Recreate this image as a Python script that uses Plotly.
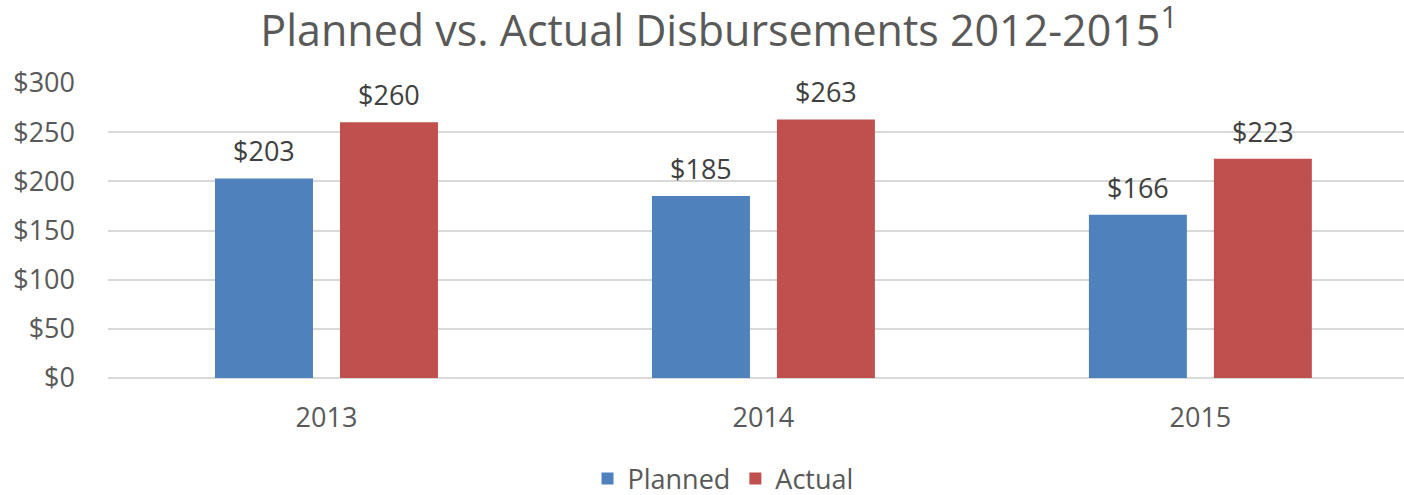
import plotly.graph_objects as go

years = ["2013", "2014", "2015"]
planned = [203, 185, 166]
actual = [260, 263, 223]
series_names = ["Planned", "Actual"]
y_ticks = [0, 50, 100, 150, 200, 250, 300]
y_tick_labels = ["$0", "$50", "$100", "$150", "$200", "$250", "$300"]

BLUE = "#4F81BD"
RED = "#C0504D"
FONT = "Open Sans"

fig = go.Figure()
fig.add_trace(go.Bar(x=years, y=planned, name=series_names[0], marker=dict(color=BLUE, line=dict(width=0))))
fig.add_trace(go.Bar(x=years, y=actual, name=series_names[1], marker=dict(color=RED, line=dict(width=0))))

for vals, shift in ((planned, -62.5), (actual, 62.5)):
    for i, v in enumerate(vals):
        fig.add_annotation(x=i, y=v, xref="x", yref="y", text="$" + str(v), showarrow=False,
                           xshift=shift, yshift=7, yanchor="bottom", xanchor="center",
                           font=dict(family=FONT, size=27, color="#404040"))

fig.update_layout(
    width=1404, height=495,
    margin=dict(l=108, r=0, t=83, b=117, autoexpand=False),
    paper_bgcolor="white", plot_bgcolor="white",
    barmode="group", bargap=0.428, bargroupgap=0.216,
    font=dict(family=FONT, color="#595959"),
    title=dict(text="Planned vs. Actual Disbursements 2012-2015<sup>1</sup>",
               x=719/1404, xanchor="center", xref="container",
               y=1-31/495, yanchor="middle", yref="container",
               font=dict(family=FONT, size=43, color="#595959")),
    legend=dict(orientation="h", x=723/1404, xanchor="center", xref="container",
                y=-101/295, yanchor="middle", yref="paper",
                font=dict(family=FONT, size=27, color="#595959"),
                itemsizing="constant", traceorder="normal"),
    showlegend=True,
)
fig.update_xaxes(type="category", range=[-0.5, 2.466], showgrid=False, showline=False,
                 ticks="", tickfont=dict(family=FONT, size=27, color="#595959"),
                 ticklabelstandoff=21, automargin=False)
fig.update_yaxes(range=[0, 300], tickvals=y_ticks, ticktext=y_tick_labels,
                 showgrid=True, gridcolor="#D9D9D9", gridwidth=1.5,
                 zeroline=True, zerolinecolor="#D9D9D9", zerolinewidth=1.5,
                 showline=False, ticks="", ticklabelstandoff=32, automargin=False,
                 tickfont=dict(family=FONT, size=27, color="#595959"))

fig.write_html("out.html", config={"displayModeBar": False},
               post_script="document.body.style.margin='0';document.body.style.overflow='hidden';")
